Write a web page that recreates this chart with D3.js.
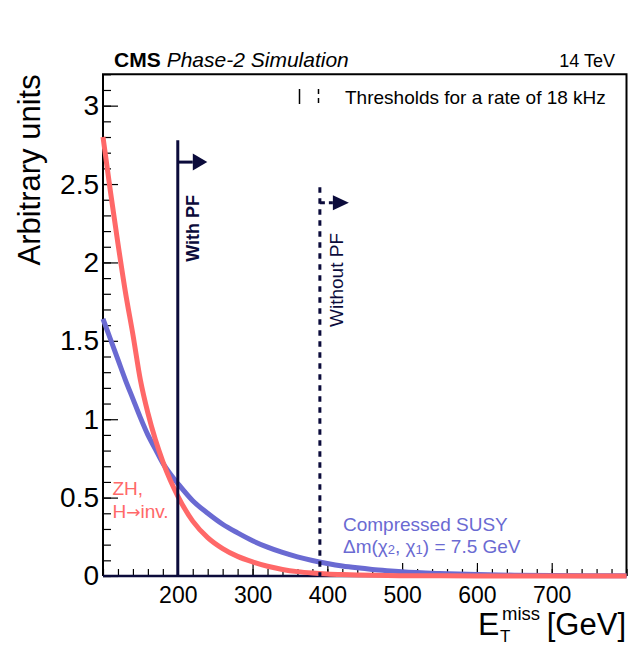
<!DOCTYPE html>
<html>
<head>
<meta charset="utf-8">
<script src="https://cdn.jsdelivr.net/npm/d3@7"></script>
<style>
  body { margin: 0; background: #fff; }
  svg { display: block; font-family: "Liberation Sans", Arial, Helvetica, sans-serif; }
</style>
</head>
<body>
<div id="chart"></div>
<script>
const metBins = [100, 110, 120, 130, 140, 150, 160, 170, 180, 190, 200, 220, 240, 260, 280, 300, 320, 340, 360, 380, 400, 420, 440, 460, 480, 500, 550, 600, 650, 700, 750, 800];
// ZH, H->inv.
const zhInv = [2.80, 2.45, 2.12, 1.81, 1.54, 1.25, 1.04, 0.87, 0.73, 0.61, 0.51, 0.35, 0.245, 0.175, 0.125, 0.09, 0.062, 0.042, 0.028, 0.019, 0.013, 0.009, 0.006, 0.004, 0.003, 0.002, 0.001, 0.0005, 0.0003, 0.0002, 0.0001, 0.0001];
// Compressed SUSY, dm = 7.5 GeV
const compressedSusy = [1.64, 1.51, 1.38, 1.25, 1.13, 1.01, 0.90, 0.81, 0.72, 0.65, 0.59, 0.48, 0.40, 0.33, 0.275, 0.225, 0.184, 0.15, 0.122, 0.099, 0.08, 0.064, 0.052, 0.042, 0.034, 0.027, 0.016, 0.009, 0.005, 0.003, 0.002, 0.001];

// 18 kHz thresholds: position, marker top, arrow height
const thresholds = [
  { label: "With PF", met: 200, top: 2.78, arrow: 2.64, dashed: false },
  { label: "Without PF", met: 390, top: 2.48, arrow: 2.38, dashed: true }
];

const xMajor = [200, 300, 400, 500, 600, 700];
const yMajor = [0, 0.5, 1, 1.5, 2, 2.5, 3];

const width = 629, height = 648;
const frame = { left: 103, right: 626.5, top: 74.3, bottom: 576 };

const red = "#ff6868";
const blue = "#6a6ad2";
const navy = "#0b0b3b";

const svg = d3.select("#chart").append("svg")
  .attr("width", width)
  .attr("height", height);

const x = d3.scaleLinear().domain([100, 800]).range([frame.left, frame.right]);
const y = d3.scaleLinear().domain([0, 3.2]).range([frame.bottom, frame.top]);

// minor ticks
svg.append("g")
  .attr("transform", `translate(${frame.left},0)`)
  .call(d3.axisLeft(y).tickValues(d3.range(0, 3.21, 0.1)).tickSize(-8).tickFormat(""))
  .call(g => g.select(".domain").remove());
svg.append("g")
  .attr("transform", `translate(0,${frame.bottom})`)
  .call(d3.axisBottom(x).tickValues(d3.range(100, 801, 20)).tickSize(-7).tickFormat(""))
  .call(g => g.select(".domain").remove());

// major ticks + labels
const yAxis = svg.append("g")
  .attr("transform", `translate(${frame.left},0)`)
  .call(d3.axisLeft(y).tickValues(yMajor).tickSize(-15).tickPadding(4).tickFormat(d3.format("")))
  .call(g => g.select(".domain").remove());
yAxis.attr("font-family", null).attr("font-size", 28);

const xAxis = svg.append("g")
  .attr("transform", `translate(0,${frame.bottom})`)
  .call(d3.axisBottom(x).tickValues(xMajor).tickSize(-13).tickPadding(11))
  .call(g => g.select(".domain").remove());
xAxis.attr("font-family", null).attr("font-size", 23);

svg.selectAll(".tick line").attr("stroke", "#000").attr("stroke-width", 1.2);
svg.selectAll(".tick text").attr("fill", "#000");

// frame
svg.append("path")
  .attr("d", `M${frame.left},${frame.bottom}V${frame.top}H${frame.right}V${frame.bottom}`)
  .attr("fill", "none")
  .attr("stroke", "#000")
  .attr("stroke-width", 2);
svg.append("line")
  .attr("x1", frame.left).attr("x2", frame.right)
  .attr("y1", frame.bottom).attr("y2", frame.bottom)
  .attr("stroke", navy)
  .attr("stroke-width", 2.5);

// curves
const line = d3.line()
  .x((d, i) => x(metBins[i]))
  .y(d => y(d))
  .curve(d3.curveMonotoneX);

svg.append("path")
  .datum(compressedSusy)
  .attr("d", line)
  .attr("fill", "none")
  .attr("stroke", blue)
  .attr("stroke-width", 5);

svg.append("path")
  .datum(zhInv)
  .attr("d", line)
  .attr("fill", "none")
  .attr("stroke", red)
  .attr("stroke-width", 5);

// threshold markers
thresholds.forEach(t => {
  const tx = x(t.met);
  svg.append("line")
    .attr("x1", tx).attr("x2", tx)
    .attr("y1", y(t.top)).attr("y2", frame.bottom)
    .attr("stroke", navy)
    .attr("stroke-width", 3)
    .attr("stroke-dasharray", t.dashed ? "5.5,5.5" : null);

  const ay = y(t.arrow);
  const stemEnd = t.dashed ? tx + 13 : tx + 15;
  const headLen = t.dashed ? 16 : 14.5;
  const headHalf = t.dashed ? 7.5 : 8.5;
  svg.append("line")
    .attr("x1", tx).attr("x2", stemEnd)
    .attr("y1", ay).attr("y2", ay)
    .attr("stroke", navy)
    .attr("stroke-width", 3)
    .attr("stroke-dasharray", t.dashed ? "5,4" : null);
  svg.append("path")
    .attr("d", `M${stemEnd},${ay - headHalf}L${stemEnd + headLen},${ay}L${stemEnd},${ay + headHalf}Z`)
    .attr("fill", navy);
});

svg.append("text")
  .attr("transform", `translate(${x(200) + 21.5},195) rotate(-90)`)
  .attr("text-anchor", "end")
  .attr("font-weight", "bold")
  .attr("font-size", 18)
  .attr("fill", navy)
  .text("With PF");

svg.append("text")
  .attr("transform", `translate(${x(390) + 23.5},233) rotate(-90)`)
  .attr("text-anchor", "end")
  .attr("font-size", 19)
  .attr("fill", navy)
  .text("Without PF");

// legend
svg.append("line")
  .attr("x1", 299.5).attr("x2", 299.5)
  .attr("y1", 89).attr("y2", 104)
  .attr("stroke", "#000").attr("stroke-width", 1.5);
svg.append("line")
  .attr("x1", 318.5).attr("x2", 318.5)
  .attr("y1", 89).attr("y2", 104)
  .attr("stroke", "#000").attr("stroke-width", 1.5)
  .attr("stroke-dasharray", "5,4");
svg.append("text")
  .attr("x", 345).attr("y", 104)
  .attr("font-size", 19)
  .text("Thresholds for a rate of 18 kHz");

// curve labels
svg.append("text")
  .attr("x", 112.5).attr("y", 495)
  .attr("font-size", 19)
  .attr("fill", red)
  .text("ZH,");
const hinv = svg.append("text")
  .attr("x", 112.5).attr("y", 517.5)
  .attr("font-size", 19)
  .attr("fill", red);
hinv.append("tspan").text("H");
hinv.append("tspan").attr("font-family", "DejaVu Sans").attr("font-size", 17).text("\u2192");
hinv.append("tspan").text("inv.");

svg.append("text")
  .attr("x", 343).attr("y", 531)
  .attr("font-size", 19)
  .attr("fill", blue)
  .text("Compressed SUSY");
const dm = svg.append("text")
  .attr("x", 343).attr("y", 553)
  .attr("font-size", 19)
  .attr("fill", blue);
dm.append("tspan").text("\u0394m(\u03c7");
dm.append("tspan").attr("font-size", 13).attr("dy", 1).text("2");
dm.append("tspan").attr("dy", -1).text(", \u03c7");
dm.append("tspan").attr("font-size", 13).attr("dy", 1).text("1");
dm.append("tspan").attr("dy", -1).text(") = 7.5 GeV");

// header
const head = svg.append("text")
  .attr("x", 114).attr("y", 67)
  .attr("font-size", 21);
head.append("tspan").attr("font-weight", "bold").text("CMS");
head.append("tspan").attr("font-style", "italic").attr("dx", 6).text("Phase-2 Simulation");

svg.append("text")
  .attr("x", 615).attr("y", 67)
  .attr("text-anchor", "end")
  .attr("font-size", 18)
  .text("14 TeV");

// axis titles
svg.append("text")
  .attr("transform", `translate(40,${frame.top}) rotate(-90)`)
  .attr("text-anchor", "end")
  .attr("font-size", 31)
  .text("Arbitrary units");

svg.append("text")
  .attr("x", 626).attr("y", 635)
  .attr("text-anchor", "end")
  .attr("font-size", 31)
  .text("[GeV]");
svg.append("text")
  .attr("x", 478).attr("y", 635)
  .attr("font-size", 32)
  .text("E");
svg.append("text")
  .attr("x", 500).attr("y", 642)
  .attr("font-size", 17)
  .text("T");
svg.append("text")
  .attr("x", 502).attr("y", 620)
  .attr("font-size", 18.5)
  .text("miss");
</script>
</body>
</html>
